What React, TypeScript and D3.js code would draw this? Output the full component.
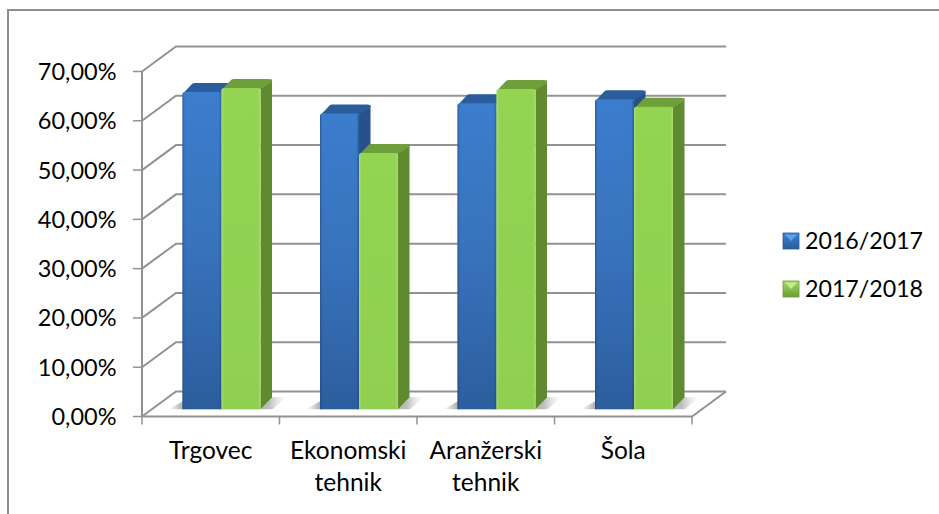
import React from "react";
import * as d3 from "d3";

const categories: string[][] = [["Trgovec"], ["Ekonomski", "tehnik"], ["Aranžerski", "tehnik"], ["Šola"]];
const series2016 = [64.4, 60.0, 62.1, 62.9];
const series2017 = [65.2, 52.0, 65.0, 61.4];
const seriesNames = ["2016/2017", "2017/2018"];
const yTicks = [0, 10, 20, 30, 40, 50, 60, 70];
const FONT = "Lato, Carlito, sans-serif";

const W = 939, H = 514;
const x0 = 142, x1 = 692, dx3 = 34, dy3 = 25;
const yFront = d3.scaleLinear().domain([0, 70]).range([416.5, 71.5]);
const yBar = d3.scaleLinear().domain([0, 70]).range([409.3, 64.3]);
const xBand = d3.scaleBand<number>().domain([0, 1, 2, 3]).range([x0, x1]).paddingInner(0).paddingOuter(0);
const barW = 39, depthX = 11.5, depthY = 9;
const fmt = (v: number) => v.toFixed(2).replace(".", ",") + "%";
const GRID = "#929292";

function Bar({ x, v, kind }: { x: number; v: number; kind: "b" | "g" }) {
  const top = yBar(v), base = yBar(0);
  const dark = kind === "b" ? "#26518a" : "#5f8a30";
  const topC = kind === "b" ? "#2b5d9d" : "#6f9f3b";
  const r = 2.5;
  const front = `M${x},${base}V${top + r}Q${x},${top} ${x + r},${top}H${x + barW - r}Q${x + barW},${top} ${x + barW},${top + r}V${base}Z`;
  return (
    <g>
      <path d={`M${x + barW},${top}L${x + barW + depthX},${top - depthY}V${base - 12}L${x + barW},${base}Z`} fill={dark} />
      <path d={`M${x + 1},${top + 1}L${x + depthX - 2},${top - depthY + 1}Q${x + depthX - 1},${top - depthY} ${x + depthX + 1},${top - depthY}H${x + barW + depthX - 3}Q${x + barW + depthX},${top - depthY} ${x + barW + depthX},${top - depthY + 3}L${x + barW},${top + 1}Z`} fill={topC} />
      <path d={front} fill={`url(#front-${kind})`} />
      <path d={front} fill={`url(#edge-${kind})`} />
    </g>
  );
}

export default function App() {
  const groupStart = (i: number) => xBand(i)! + 40.5;
  return (
    <svg width={W} height={H} style={{ position: "absolute", left: 0, top: 0, background: "#fff" }} fontFamily={FONT}>
      <defs>
        <linearGradient id="front-b" x1="0" y1="0" x2="0" y2="1">
          <stop offset="0" stopColor="#3c7dcd" />
          <stop offset="0.5" stopColor="#3872bb" />
          <stop offset="1" stopColor="#2c5e9e" />
        </linearGradient>
        <linearGradient id="front-g" x1="0" y1="0" x2="0" y2="1">
          <stop offset="0" stopColor="#93d452" />
          <stop offset="1" stopColor="#90cf50" />
        </linearGradient>
        <linearGradient id="edge-b" x1="0" y1="0" x2="1" y2="0">
          <stop offset="0" stopColor="#1d3f70" stopOpacity="0.55" />
          <stop offset="0.06" stopColor="#1d3f70" stopOpacity="0" />
          <stop offset="0.93" stopColor="#1d3f70" stopOpacity="0" />
          <stop offset="1" stopColor="#1d3f70" stopOpacity="0.5" />
        </linearGradient>
        <linearGradient id="edge-g" x1="0" y1="0" x2="1" y2="0">
          <stop offset="0" stopColor="#b9e58b" stopOpacity="0.6" />
          <stop offset="0.06" stopColor="#b9e58b" stopOpacity="0" />
          <stop offset="0.94" stopColor="#b9e58b" stopOpacity="0" />
          <stop offset="1" stopColor="#b9e58b" stopOpacity="0.6" />
        </linearGradient>
        <linearGradient id="shadow" x1="0" y1="0" x2="1" y2="0">
          <stop offset="0" stopColor="#aaa" stopOpacity="0" />
          <stop offset="0.12" stopColor="#a0a0a0" stopOpacity="0.85" />
          <stop offset="0.85" stopColor="#b0b0b0" stopOpacity="0.85" />
          <stop offset="1" stopColor="#ddd" stopOpacity="0" />
        </linearGradient>
        <linearGradient id="leg-b" x1="0" y1="0" x2="0" y2="1">
          <stop offset="0" stopColor="#3f83d6" />
          <stop offset="1" stopColor="#2a5a98" />
        </linearGradient>
        <linearGradient id="leg-g" x1="0" y1="0" x2="0" y2="1">
          <stop offset="0" stopColor="#a6dc68" />
          <stop offset="1" stopColor="#6a9c38" />
        </linearGradient>
      </defs>

      {/* outer frame */}
      <path d="M8,514V10H939" fill="none" stroke="#8e8e8e" strokeWidth={2} />

      {/* back wall gridlines with side wall */}
      {yTicks.map((t) => {
        const y = yFront(t);
        return (
          <g key={t} stroke={GRID} strokeWidth={2} fill="none">
            <path d={`M${x0},${y}L${x0 + dx3},${y - dy3}H${x1 + dx3}`} />
            <line x1={x0 - 9} x2={x0} y1={y} y2={y} strokeWidth={1.5} />
          </g>
        );
      })}
      <g stroke={GRID} fill="none" strokeWidth={2}>
        <line x1={x0} x2={x0} y1={yFront(70)} y2={yFront(0)} />
        <path d={`M${x0},${yFront(0)}H${x1}L${x1 + dx3},${yFront(0) - dy3}`} />
      </g>
      {d3.range(5).map((i) => (
        <line key={i} x1={x0 + (i * (x1 - x0)) / 4} x2={x0 + (i * (x1 - x0)) / 4} y1={yFront(0)} y2={yFront(0) + 8} stroke={GRID} strokeWidth={1.5} />
      ))}

      {/* shadows */}
      {categories.map((_, i) => {
        const x = groupStart(i), b = yBar(0);
        return <path key={i} d={`M${x - 14},${b}L${x + 2},${b - 9}L${x + 2 * barW + 12},${b - 12}H${x + 2 * barW + 26}L${x + 2 * barW + 12},${b}Z`} fill="url(#shadow)" />;
      })}

      {/* bars */}
      {categories.map((_, i) => (
        <g key={i}>
          <Bar x={groupStart(i)} v={series2016[i]} kind="b" />
          <Bar x={groupStart(i) + barW} v={series2017[i]} kind="g" />
        </g>
      ))}

      {/* y labels */}
      {yTicks.map((t) => (
        <text key={t} x={116.5} y={yFront(t) + 8.5} textAnchor="end" fontSize={23.5} fill="#000">{fmt(t)}</text>
      ))}

      {/* x labels */}
      {categories.map((lines, i) => (
        <text key={i} textAnchor="middle" fontSize={24.5} fill="#000">
          {lines.map((l, j) => (
            <tspan key={j} x={xBand(i)! + xBand.bandwidth() / 2} y={459 + j * 32}>{l}</tspan>
          ))}
        </text>
      ))}

      {/* legend */}
      {seriesNames.map((n, i) => {
        const y = 233 + i * 48;
        const k = i === 0 ? "b" : "g";
        return (
          <g key={n}>
            <rect x={783} y={y} width={16} height={16} fill={`url(#leg-${k})`} stroke={i === 0 ? "#2a5a98" : "#6a9c38"} strokeWidth={0.8} />
            <path d={`M785,${y + 1.5}H797L791,${y + 8}Z`} fill={i === 0 ? "#5aa3ea" : "#c5ea8f"} />
            <text x={805} y={y + 15.5} fontSize={23.2} fill="#000">{n}</text>
          </g>
        );
      })}
    </svg>
  );
}
